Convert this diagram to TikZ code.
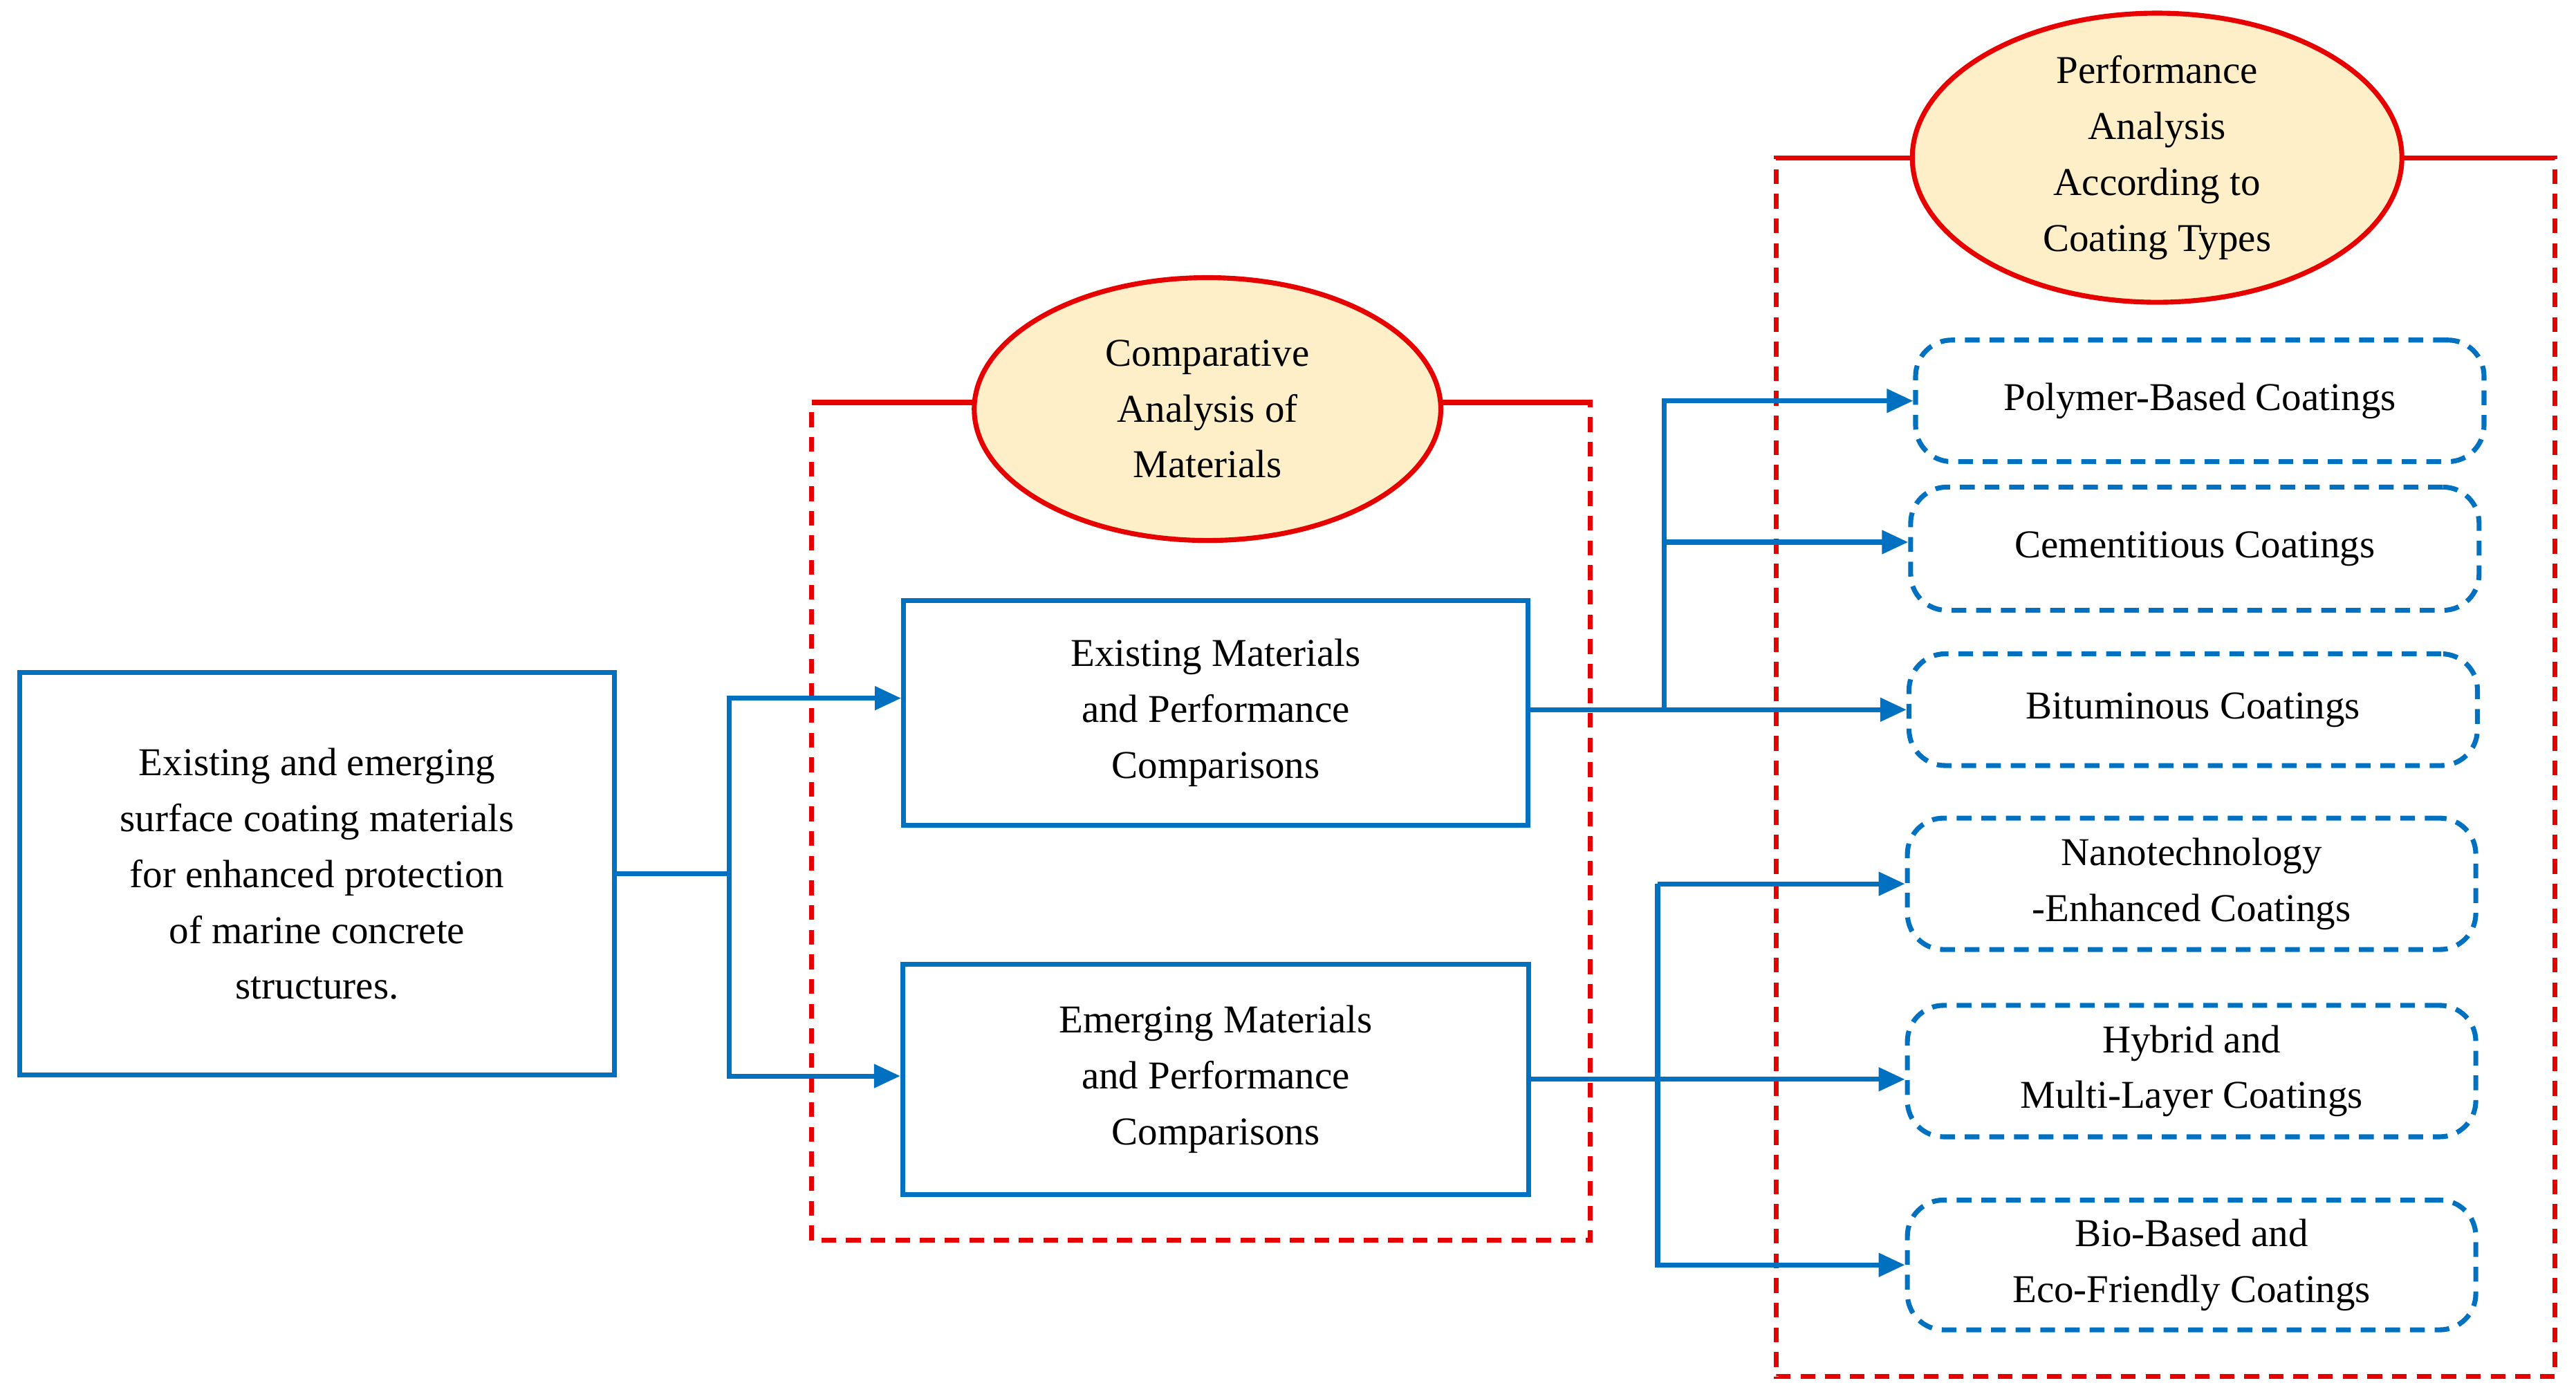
\documentclass[tikz,border=0pt]{standalone}
\usepackage{fontspec}
\setmainfont{Liberation Serif}
\usetikzlibrary{shapes.geometric,arrows.meta}
\definecolor{bl}{RGB}{0,112,192}
\definecolor{rd}{RGB}{230,0,0}
\definecolor{yl}{RGB}{255,239,200}
\begin{document}
\begin{tikzpicture}[x=1pt,y=-1pt,
 txt/.style={font=\fontsize{24}{34}\selectfont,align=center,inner sep=0},
 bbox/.style={txt,draw=bl,line width=3pt},
 rbox/.style={txt,draw=bl,line width=3pt,dashed,dash pattern=on 9pt off 6pt,rounded corners=22pt,minimum width=346pt},
 ell/.style={txt,ellipse,draw=rd,fill=yl,line width=3pt},
 con/.style={draw=bl,line width=3pt},
 arr/.style={con,-{Triangle[length=16pt,width=14pt]}},
 rdash/.style={draw=rd,line width=3pt,dash pattern=on 9pt off 6pt},
 rsol/.style={draw=rd,line width=3pt}]
\useasboundingbox (0,0) rectangle (1568,847);
% red frames
\draw[rdash] (593,245) -- (494,245) -- (494,755) -- (968,755) -- (968,245) -- (877,245);
\draw[rsol] (593,245) -- (494,245); \draw[rsol] (968,245) -- (877,245);
\draw[rdash] (1164,96) -- (1081,96) -- (1081,838) -- (1555,838) -- (1555,96) -- (1462,96);
\draw[rsol] (1164,96) -- (1081,96); \draw[rsol] (1555,96) -- (1462,96);
\node[ell,minimum width=284pt,minimum height=160pt] (e1) at (735,249) {Comparative\\Analysis of\\Materials};
\node[ell,minimum width=298pt,minimum height=176pt] (e2) at (1313,96) {Performance\\Analysis\\According to\\Coating Types};
% boxes
\node[bbox,minimum width=362pt,minimum height=245pt] (L) at (193,532) {Existing and emerging\\surface coating materials\\for enhanced protection\\of marine concrete\\structures.};
\node[bbox,minimum width=380pt,minimum height=137pt] (ex) at (740,434) {Existing Materials\\and Performance\\Comparisons};
\node[bbox,minimum width=381pt,minimum height=140pt] (em) at (740,657) {Emerging Materials\\and Performance\\Comparisons};
\node[rbox,minimum height=74pt] (c1) at (1339,244) {Polymer-Based Coatings};
\node[rbox,minimum height=75pt] (c2) at (1336,334) {Cementitious Coatings};
\node[rbox,minimum height=68pt] (c3) at (1335,432) {Bituminous Coatings};
\node[rbox,minimum height=80pt] (c4) at (1334,538) {Nanotechnology\\-Enhanced Coatings};
\node[rbox,minimum height=80pt] (c5) at (1334,652) {Hybrid and\\Multi-Layer Coatings};
\node[rbox,minimum height=79pt] (c6) at (1334,770) {Bio-Based and\\Eco-Friendly Coatings};
% connectors
\coordinate (j1) at (444,532);
\coordinate (j1t) at (444,425);
\coordinate (j1b) at (444,655);
\draw[con] (L.east) -- (j1);
\draw[arr] (j1) -- (j1t) -- (ex.west|-j1t);
\draw[arr] (j1) -- (j1b) -- (em.west|-j1b);
\coordinate (j2) at (1013,432);
\coordinate (j2a) at (1013,244);
\coordinate (j2b) at (1013,330);
\draw[arr] (ex.east|-j2) -- (c3.west|-j2);
\draw[arr] (j2) -- (j2a) -- (c1.west|-j2a);
\draw[arr] (j2b) -- (c2.west|-j2b);
\coordinate (j3) at (1009,657);
\coordinate (j3a) at (1009,538);
\coordinate (j3b) at (1009,770);
\draw[arr] (em.east|-j3) -- (c5.west|-j3);
\draw[arr] (j3a) -- (c4.west|-j3a);
\draw[arr] (j3a) -- (j3b) -- (c6.west|-j3b);
\end{tikzpicture}
\end{document}
